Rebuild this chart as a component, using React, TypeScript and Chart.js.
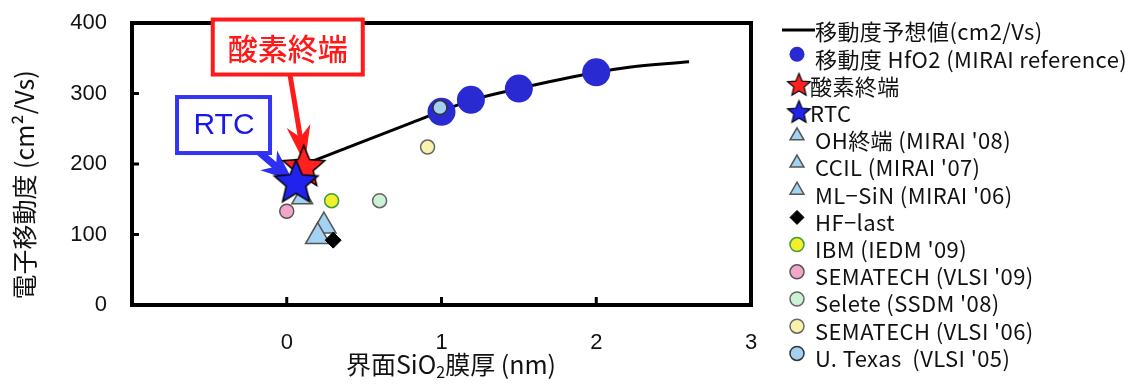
import React, { useEffect, useRef } from 'react';
import { Chart, registerables } from 'chart.js';

Chart.register(...registerables);

// Axis ticks
const xTicks = [-1, 0, 1, 2, 3];
const yTicks = [0, 100, 200, 300, 400];

// Predicted mobility curve (cm2/Vs) vs interfacial SiO2 thickness (nm)
const predictedX = [0.1, 0.2, 0.4, 0.6, 0.8, 1.0, 1.2, 1.5, 2.0, 2.2, 2.6];
const predictedY = [200, 207, 224, 241, 258, 275, 291, 307, 330, 337, 345];

// HfO2 reference mobility
const hfo2X = [1.0, 1.19, 1.5, 2.0];
const hfo2Y = [274, 291, 307, 330];

// Individual results
const oxygenX = [0.11];
const oxygenY = [195];
const rtcX = [0.06];
const rtcY = [173];
const ohX = [0.1];
const ohY = [152];
const ccilX = [0.2];
const ccilY = [97];
const mlsinX = [0.24];
const mlsinY = [112];
const hfLastX = [0.3];
const hfLastY = [92];
const ibmX = [0.29];
const ibmY = [148];
const sem09X = [0.0];
const sem09Y = [133];
const seleteX = [0.6];
const seleteY = [148];
const sem06X = [0.91];
const sem06Y = [224];
const texasX = [0.99];
const texasY = [280];

const JP = "'Noto Sans CJK JP', 'Noto Sans', sans-serif";
const LAT = "'Liberation Sans', Arial, sans-serif";

const pts = (xs: number[], ys: number[]) => xs.map((x, i) => ({ x, y: ys[i] }));

function makeStar(fill: string, R: number, lw: number): HTMLCanvasElement {
  const size = Math.ceil(2 * R + lw * 2 + 4);
  const c = document.createElement('canvas');
  c.width = size;
  c.height = size;
  const g = c.getContext('2d')!;
  const cx = size / 2;
  const cy = size / 2;
  g.beginPath();
  for (let i = 0; i < 10; i++) {
    const r = i % 2 === 0 ? R : R * 0.45;
    const a = -Math.PI / 2 + (i * Math.PI) / 5;
    g.lineTo(cx + r * Math.cos(a), cy + r * Math.sin(a));
  }
  g.closePath();
  g.fillStyle = fill;
  g.fill();
  g.lineWidth = lw;
  g.strokeStyle = '#000';
  g.lineJoin = 'miter';
  g.stroke();
  return c;
}

function arrow(
  ctx: CanvasRenderingContext2D,
  x0: number, y0: number, x1: number, y1: number,
  color: string, shaft: number, headLen: number, headW: number
) {
  const ang = Math.atan2(y1 - y0, x1 - x0);
  const ux = Math.cos(ang), uy = Math.sin(ang);
  const nx = -uy, ny = ux;
  const bx = x1 - ux * headLen, by = y1 - uy * headLen;
  const notchX = x1 - ux * headLen * 0.7, notchY = y1 - uy * headLen * 0.7;
  ctx.strokeStyle = color;
  ctx.lineWidth = shaft;
  ctx.lineCap = 'butt';
  ctx.beginPath();
  ctx.moveTo(x0, y0);
  ctx.lineTo(notchX, notchY);
  ctx.stroke();
  ctx.fillStyle = color;
  ctx.beginPath();
  ctx.moveTo(x1, y1);
  ctx.lineTo(bx + nx * headW / 2, by + ny * headW / 2);
  ctx.lineTo(notchX, notchY);
  ctx.lineTo(bx - nx * headW / 2, by - ny * headW / 2);
  ctx.closePath();
  ctx.fill();
}

// Legend rows, in drawing order (index into datasets)
const legendRows = [0, 1, 2, 3, 4, 5, 6, 7, 8, 9, 10, 11, 12];

const overlayPlugin = {
  id: 'overlay',
  beforeDatasetsDraw(chart: any) {
    const { ctx, chartArea: a, scales } = chart;
    const xs = scales.x, ys = scales.y;
    ctx.save();
    // frame
    ctx.strokeStyle = '#000';
    ctx.lineWidth = 4;
    ctx.strokeRect(a.left, a.top, a.right - a.left, a.bottom - a.top);
    // inward tick marks
    ctx.lineWidth = 3;
    yTicks.forEach((v) => {
      if (v <= 0 || v >= 400) return;
      const py = ys.getPixelForValue(v);
      ctx.beginPath();
      ctx.moveTo(a.left, py);
      ctx.lineTo(a.left + 7, py);
      ctx.stroke();
    });
    xTicks.forEach((v) => {
      if (v <= -1 || v >= 3) return;
      const px = xs.getPixelForValue(v);
      ctx.beginPath();
      ctx.moveTo(px, a.bottom);
      ctx.lineTo(px, a.bottom - 8);
      ctx.stroke();
    });

    // callout: oxygen termination
    const rx = xs.getPixelForValue(oxygenX[0]);
    const ry = ys.getPixelForValue(oxygenY[0]);
    arrow(ctx, rx - 14, ry - 94, rx + 1, ry - 4, '#ff1a1a', 5, 38, 24);
    ctx.fillStyle = '#fff';
    ctx.fillRect(rx - 91, ry - 148, 150, 55);
    ctx.strokeStyle = '#ff1a1a';
    ctx.lineWidth = 4;
    ctx.strokeRect(rx - 91, ry - 148, 150, 55);
    ctx.fillStyle = '#ff1a1a';
    ctx.font = `500 30px ${JP}`;
    ctx.textAlign = 'center';
    ctx.textBaseline = 'middle';
    ctx.fillText('酸素終端', rx - 16, ry - 119);

    // callout: RTC
    const bxp = xs.getPixelForValue(rtcX[0]);
    const byp = ys.getPixelForValue(rtcY[0]);
    arrow(ctx, bxp - 37, byp - 31, bxp - 3, byp - 2, '#2f2ff2', 7, 32, 26);
    ctx.fillStyle = '#fff';
    ctx.fillRect(bxp - 119, byp - 86, 93, 56);
    ctx.strokeStyle = '#3434f4';
    ctx.lineWidth = 4;
    ctx.strokeRect(bxp - 119, byp - 86, 93, 56);
    ctx.fillStyle = '#1818e8';
    ctx.font = `30px ${LAT}`;
    ctx.fillText('RTC', bxp - 72, byp - 57);
    ctx.restore();
  },
  afterDraw(chart: any) {
    const { ctx } = chart;
    ctx.save();
    // y axis title
    ctx.save();
    ctx.translate(24, 185);
    ctx.rotate(-Math.PI / 2);
    ctx.fillStyle = '#111';
    ctx.font = `25px ${JP}`;
    ctx.textAlign = 'center';
    ctx.textBaseline = 'middle';
    ctx.fillText('電子移動度 (cm²/Vs)', 0, 0);
    ctx.restore();

    // x axis title with subscript
    ctx.fillStyle = '#111';
    ctx.textBaseline = 'middle';
    ctx.textAlign = 'left';
    const big = `25px ${JP}`;
    const small = `16px ${JP}`;
    const parts: [string, string, number][] = [
      ['界面SiO', big, 0],
      ['2', small, 8],
      ['膜厚 (nm)', big, 0],
    ];
    let tw = 0;
    parts.forEach(([t, f]) => { ctx.font = f; tw += ctx.measureText(t).width; });
    let cx = 451 - tw / 2;
    parts.forEach(([t, f, dy]) => {
      ctx.font = f;
      ctx.fillText(t, cx, 364 + dy);
      cx += ctx.measureText(t).width;
    });

    // legend
    const ds = chart.data.datasets;
    const mx = 797;
    const tx = 815;
    legendRows.forEach((di, row) => {
      const d = ds[di];
      const yc = 30 + row * 27.2;
      const style = d.pointStyle;
      ctx.lineWidth = 1.3;
      if (d.showLine) {
        ctx.strokeStyle = d.borderColor;
        ctx.lineWidth = 3;
        ctx.beginPath();
        ctx.moveTo(782, yc);
        ctx.lineTo(815, yc);
        ctx.stroke();
      } else if (style instanceof HTMLCanvasElement) {
        const s = d.legendStar as HTMLCanvasElement;
        ctx.drawImage(s, mx + 2 - s.width / 2, yc + 1 - s.height / 2);
      } else {
        const my = yc - 3;
        const r = d.legendRadius;
        ctx.fillStyle = d.backgroundColor;
        ctx.strokeStyle = d.borderColor;
        ctx.lineWidth = d.borderWidth ? Math.min(d.borderWidth, 1.5) : 0;
        ctx.beginPath();
        if (style === 'circle') {
          ctx.arc(mx, my, r, 0, Math.PI * 2);
        } else if (style === 'triangle') {
          for (let k = 0; k < 3; k++) {
            const ang = (k * 2 * Math.PI) / 3;
            ctx.lineTo(mx + Math.sin(ang) * r, my - Math.cos(ang) * r);
          }
          ctx.closePath();
        } else if (style === 'rectRot') {
          ctx.moveTo(mx - r, my);
          ctx.lineTo(mx, my - r);
          ctx.lineTo(mx + r, my);
          ctx.lineTo(mx, my + r);
          ctx.closePath();
        }
        ctx.fill();
        if (d.borderWidth) ctx.stroke();
      }
      ctx.fillStyle = '#111';
      ctx.font = `22px ${JP}`;
      (ctx as any).letterSpacing = '0.4px';
      ctx.textAlign = 'left';
      ctx.textBaseline = 'middle';
      const offs = style instanceof HTMLCanvasElement ? -5 : 0;
      ctx.fillText(d.label, tx + offs, yc + 2);
      (ctx as any).letterSpacing = '0px';
    });
    ctx.restore();
  },
};

export default function App() {
  const ref = useRef<HTMLCanvasElement | null>(null);

  useEffect(() => {
    document.body.style.margin = '0';
    const canvas = ref.current;
    if (!canvas) return;

    const redStar = makeStar('#ff2020', 22, 1.5);
    const blueStar = makeStar('#2222ee', 23, 1.5);
    const redStarSmall = makeStar('#ff2020', 12, 1.2);
    const blueStarSmall = makeStar('#2222ee', 12, 1.2);

    const scatter = (
      label: string, xs: number[], ys: number[], style: any,
      bg: string, border: string, bw: number, radius: number, order: number,
      legendRadius: number
    ) => ({
      type: 'scatter',
      label,
      data: pts(xs, ys),
      pointStyle: style,
      backgroundColor: bg,
      borderColor: border,
      borderWidth: bw,
      pointRadius: radius,
      pointHoverRadius: radius,
      showLine: false,
      order,
      legendRadius,
    });

    const datasets: any[] = [
      {
        type: 'line',
        label: '移動度予想値(cm2/Vs)',
        data: pts(predictedX, predictedY),
        borderColor: '#000',
        borderWidth: 3,
        pointRadius: 0,
        showLine: true,
        fill: false,
        cubicInterpolationMode: 'monotone',
        order: 20,
      },
      scatter('移動度 HfO2 (MIRAI reference)', hfo2X, hfo2Y, 'circle', '#2a2ad2', '#2a2ad2', 0, 14, 15, 7.5),
      { ...scatter('酸素終端', oxygenX, oxygenY, redStar, '#ff2020', '#000', 0, 22, 1, 0), legendStar: redStarSmall },
      { ...scatter('RTC', rtcX, rtcY, blueStar, '#2222ee', '#000', 0, 23, 0, 0), legendStar: blueStarSmall },
      scatter("OH終端 (MIRAI '08)", ohX, ohY, 'triangle', '#a3d3f3', '#555', 1.5, 12, 4, 8),
      scatter("CCIL (MIRAI '07)", ccilX, ccilY, 'triangle', '#a3d3f3', '#555', 1.5, 14, 5, 8),
      scatter("ML−SiN (MIRAI '06)", mlsinX, mlsinY, 'triangle', '#a3d3f3', '#555', 1.5, 14, 6, 8),
      scatter('HF−last', hfLastX, hfLastY, 'rectRot', '#000', '#000', 1, 8, 3, 7),
      scatter("IBM (IEDM '09)", ibmX, ibmY, 'circle', '#f4ee2c', '#3d9e3d', 1.5, 7, 7, 7),
      scatter("SEMATECH (VLSI '09)", sem09X, sem09Y, 'circle', '#f3a6c8', '#555', 1.5, 7, 3, 7),
      scatter("Selete (SSDM '08)", seleteX, seleteY, 'circle', '#cbf2d4', '#666', 1.5, 7, 8, 7),
      scatter("SEMATECH (VLSI '06)", sem06X, sem06Y, 'circle', '#f8f2aa', '#666', 1.5, 7, 9, 7),
      scatter("U. Texas  (VLSI '05)", texasX, texasY, 'circle', '#a6d0ef', '#333', 1.5, 7, 2, 7),
    ];

    const chart = new Chart(canvas, {
      type: 'scatter',
      data: { datasets },
      options: {
        animation: false,
        responsive: false,
        devicePixelRatio: 1,
        layout: { padding: { left: 0, right: 388, top: 16, bottom: 0 } },
        plugins: { legend: { display: false }, tooltip: { enabled: false } },
        scales: {
          x: {
            type: 'linear',
            min: -1,
            max: 3,
            afterBuildTicks: (s: any) => { s.ticks = xTicks.map((v) => ({ value: v })); },
            afterFit: (s: any) => {
              s.height = 80;
              s.paddingLeft = 0;
              s.paddingRight = 0;
            },
            ticks: {
              callback: (v: any) => (v === -1 ? '' : String(v)),
              font: { size: 22, family: LAT },
              color: '#111',
              padding: 25,
              maxRotation: 0,
              autoSkip: false,
            },
            grid: { display: false, drawTicks: false },
            border: { display: false },
          },
          y: {
            type: 'linear',
            min: 0,
            max: 400,
            afterBuildTicks: (s: any) => { s.ticks = yTicks.map((v) => ({ value: v })); },
            afterFit: (s: any) => {
              s.width = 132;
              s.paddingTop = 0;
              s.paddingBottom = 0;
            },
            ticks: {
              font: { size: 22, family: LAT },
              color: '#111',
              padding: 25,
              autoSkip: false,
            },
            grid: { display: false, drawTicks: false },
            border: { display: false },
          },
        },
      } as any,
      plugins: [overlayPlugin],
    } as any);

    return () => chart.destroy();
  }, []);

  return (
    <div style={{ width: 1139, height: 385, position: 'relative' }}>
      <canvas ref={ref} width={1139} height={385} style={{ display: 'block' }} />
    </div>
  );
}
